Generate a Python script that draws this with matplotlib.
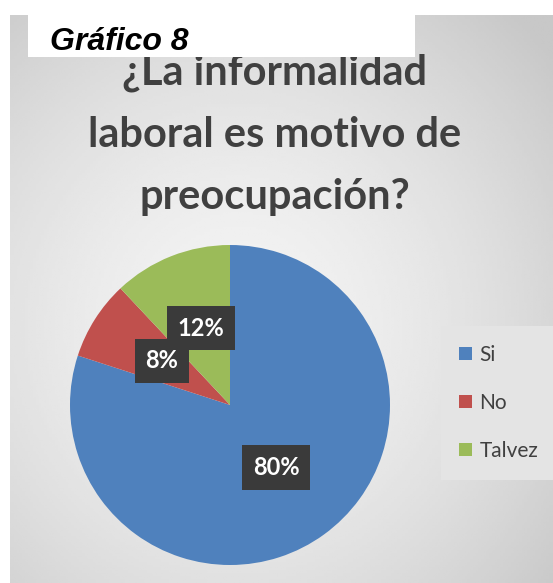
import matplotlib
matplotlib.use("Agg")
import matplotlib.pyplot as plt
import numpy as np
from matplotlib.patches import Rectangle

categories = ["Si", "No", "Talvez"]
values = [80, 8, 12]
colors = ["#4f81bd", "#c0504d", "#9bbb59"]
title = "¿La informalidad\nlaboral es motivo de\npreocupación?"
caption = "Gráfico 8"

W, H = 553, 583
fig = plt.figure(figsize=(W/100, H/100), dpi=100)
fig.patch.set_facecolor("white")

# gradient background panel
bg = fig.add_axes([10/W, 0, 543/W, 568/H])
yy, xx = np.mgrid[0:1:200j, 0:1:200j]
r = np.sqrt((xx-0.42)**2 + ((yy-0.55)*1.0)**2)
img = 0.955 - 0.17*np.clip(r/0.75, 0, 1)**1.6
bg.imshow(img, cmap="gray", vmin=0, vmax=1, extent=[0, 1, 0, 1], aspect="auto")
bg.set_xlim(0, 1); bg.set_ylim(0, 1)
bg.axis("off")

# caption white box
fig.patches.append(Rectangle((28/W, 1-57/H), 387/W, 42/H, transform=fig.transFigure,
                             facecolor="white", edgecolor="none", zorder=3))
fig.text(50/W, 1-50/H, caption, fontsize=23, fontweight="bold", fontstyle="italic",
         family="Liberation Sans", va="baseline", ha="left", color="black", zorder=4)

fig.text(275/W, 1-135/H, title, fontsize=30, fontweight="bold", family="Lato",
         color="#404040", ha="center", va="center", linespacing=1.78, zorder=2)

# pie
ax = fig.add_axes([(230-160)/W, 1-(405+160)/H, 320/W, 320/H])
ax.set_facecolor("none")
wedges, _ = ax.pie(values, colors=colors, startangle=90, counterclock=False, radius=1)
ax.set_xlim(-1, 1); ax.set_ylim(-1, 1); ax.set_aspect("equal")
ax.axis("off")

label_pos = [(0.29, -0.39), (-0.425, 0.275), (-0.18, 0.48)]
for (x, y), v in zip(label_pos, values):
    ax.text(x, y, f"{v}%", ha="center", va="center", color="white", fontsize=17,
            fontweight="bold", family="Lato",
            bbox=dict(boxstyle="square,pad=0.45", facecolor="#3a3a3a", edgecolor="none"))

# legend
leg = fig.legend(handles=wedges, labels=categories, loc="center left",
                 bbox_to_anchor=(447/W, 1-403/H), borderaxespad=0, frameon=True,
                 handlelength=0.6, handleheight=0.6, labelspacing=1.35,
                 handletextpad=0.35, borderpad=0.6,
                 prop={"family": "Lato", "size": 15})
leg.get_frame().set_facecolor("#e4e4e4")
leg.get_frame().set_edgecolor("none")
leg.get_frame().set_alpha(1)
leg.get_frame().set_boxstyle("square")
for t in leg.get_texts():
    t.set_color("#404040")

fig.savefig("out.png", dpi=100)
